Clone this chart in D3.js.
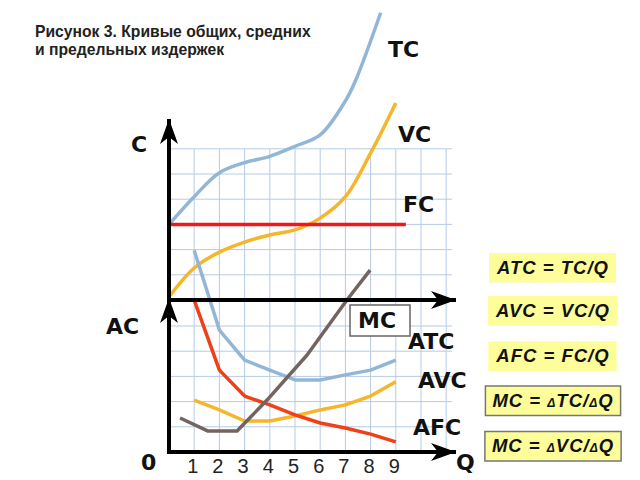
<!DOCTYPE html>
<html>
<head>
<meta charset="utf-8">
<script src="https://cdn.jsdelivr.net/npm/d3@7"></script>
<style>
  body { margin: 0; background: #fff; }
  svg { display: block; }
</style>
</head>
<body>
<div id="wrapper"></div>
<script>
const titleLines = ["Рисунок 3. Кривые общих, средних", "и предельных издержек"];
const qTicks = [1, 2, 3, 4, 5, 6, 7, 8, 9];

// upper panel: total costs
const tcQ = [0, 1, 2, 3, 4, 5, 6, 7, 7.4, 8.4];
const tcV = [3, 4.1, 5.05, 5.45, 5.7, 6.1, 6.55, 7.9, 8.7, 11.4];
const vcQ = [0, 1, 2, 3, 4, 5, 6, 7, 8, 9];
const vcV = [0.12, 1.27, 1.9, 2.3, 2.58, 2.78, 3.25, 4.1, 5.83, 7.82];
const fcQ = [0, 9.4];
const fcV = [3, 3];

// lower panel: average and marginal costs
const avgQ = [1, 2, 3, 4, 5, 6, 7, 8, 9];
const atcV = [8.0, 4.84, 3.65, 3.25, 2.86, 2.86, 3.06, 3.25, 3.65];
const avcV = [2.06, 1.67, 1.23, 1.23, 1.43, 1.67, 1.87, 2.22, 2.79];
const afcV = [6.03, 3.25, 2.22, 1.87, 1.47, 1.15, 0.95, 0.71, 0.4];
const mcQ = [0.44, 1.55, 2.7, 3.89, 5.48, 7.06, 7.98];
const mcV = [1.35, 0.83, 0.83, 2.06, 3.85, 6.03, 7.22];

const formulas = [
  ["ATC = TC/Q"],
  ["AVC = VC/Q"],
  ["AFC = FC/Q"],
  ["MC = ", "Δ", "TC/", "Δ", "Q"],
  ["MC = ", "Δ", "VC/", "Δ", "Q"],
];

const colors = {
  tc: "#93b6d6",
  vc: "#f6b52a",
  fc: "#f01818",
  afc: "#f0401a",
  mc: "#74645f",
  grid: "#b7cbe6",
};

const width = 640;
const height = 480;

const svg = d3
  .select("#wrapper")
  .append("svg")
  .attr("width", width)
  .attr("height", height);

const xScale = d3.scaleLinear().domain([0, 11]).range([169, 446.2]);
const yUpper = d3.scaleLinear().domain([0, 6]).range([300, 148.8]);
const yLower = d3.scaleLinear().domain([0, 6]).range([452, 300.8]);

// arrow head
svg
  .append("defs")
  .append("marker")
  .attr("id", "arrow")
  .attr("markerUnits", "userSpaceOnUse")
  .attr("viewBox", "-26 -10 28 20")
  .attr("refX", 0)
  .attr("refY", 0)
  .attr("markerWidth", 28)
  .attr("markerHeight", 20)
  .attr("orient", "auto")
  .append("path")
  .attr("d", "M0,0 L-25,-9 L-18,0 L-25,9 Z")
  .attr("fill", "#000");

// grid
const grid = svg.append("g").attr("stroke", colors.grid).attr("stroke-width", 1);
grid
  .selectAll("line.v")
  .data(d3.range(1, 12))
  .join("line")
  .attr("class", "v")
  .attr("x1", (d) => xScale(d))
  .attr("x2", (d) => xScale(d))
  .attr("y1", yUpper(6))
  .attr("y2", yLower(0));
grid
  .selectAll("line.hu")
  .data(d3.range(1, 7))
  .join("line")
  .attr("class", "hu")
  .attr("x1", xScale(0))
  .attr("x2", 452)
  .attr("y1", (d) => yUpper(d))
  .attr("y2", (d) => yUpper(d));
grid
  .selectAll("line.hl")
  .data(d3.range(1, 6))
  .join("line")
  .attr("class", "hl")
  .attr("x1", xScale(0))
  .attr("x2", 452)
  .attr("y1", (d) => yLower(d))
  .attr("y2", (d) => yLower(d));

// curves
const smoothLine = (ys) =>
  d3
    .line()
    .x((d) => xScale(d[0]))
    .y((d) => ys(d[1]))
    .curve(d3.curveCatmullRom.alpha(0.5));
const straightLine = (ys) =>
  d3
    .line()
    .x((d) => xScale(d[0]))
    .y((d) => ys(d[1]));

const curves = svg
  .append("g")
  .attr("fill", "none")
  .attr("stroke-width", 3.5)
  .attr("stroke-linejoin", "round");

curves.append("path").attr("d", smoothLine(yUpper)(d3.zip(tcQ, tcV))).attr("stroke", colors.tc);
curves.append("path").attr("d", smoothLine(yUpper)(d3.zip(vcQ, vcV))).attr("stroke", colors.vc);
curves.append("path").attr("d", straightLine(yUpper)(d3.zip(fcQ, fcV))).attr("stroke", colors.fc);
curves.append("path").attr("d", straightLine(yLower)(d3.zip(avgQ, atcV))).attr("stroke", colors.tc);
curves.append("path").attr("d", straightLine(yLower)(d3.zip(avgQ, avcV))).attr("stroke", colors.vc);
curves.append("path").attr("d", straightLine(yLower)(d3.zip(avgQ, afcV))).attr("stroke", colors.afc);
curves.append("path").attr("d", straightLine(yLower)(d3.zip(mcQ, mcV))).attr("stroke", colors.mc);

// axes
const axes = svg.append("g").attr("stroke", "#000").attr("stroke-width", 4);
axes.append("line").attr("x1", 169).attr("y1", yUpper(0)).attr("x2", 169).attr("y2", 119).attr("marker-end", "url(#arrow)");
axes.append("line").attr("x1", 169).attr("y1", yLower(0) + 2).attr("x2", 169).attr("y2", 298).attr("marker-end", "url(#arrow)");
axes.append("line").attr("x1", 167).attr("y1", yUpper(0)).attr("x2", 456).attr("y2", yUpper(0)).attr("marker-end", "url(#arrow)");
axes.append("line").attr("x1", 167).attr("y1", yLower(0)).attr("x2", 456).attr("y2", yLower(0)).attr("marker-end", "url(#arrow)");

const xAxis = svg
  .append("g")
  .attr("transform", `translate(0,${yLower(0)})`)
  .call(d3.axisBottom(xScale).tickValues(qTicks).tickSize(0));
xAxis.select(".domain").remove();
xAxis
  .selectAll("text")
  .attr("y", 21)
  .attr("dy", null)
  .attr("x", -2)
  .style("font-family", "'Liberation Sans', Arial, sans-serif")
  .style("font-size", "20px")
  .attr("fill", "#222");

// title
svg
  .append("g")
  .selectAll("text")
  .data(titleLines)
  .join("text")
  .attr("x", 35)
  .attr("y", (d, i) => 37 + i * 18)
  .style("font-family", "'Liberation Sans', Arial, sans-serif")
  .style("font-weight", "bold")
  .style("font-size", "15.7px")
  .attr("fill", "#222")
  .text((d) => d);

// curve and axis labels
const labels = [
  { t: "TC", x: 388, y: 57 },
  { t: "VC", x: 398, y: 142 },
  { t: "FC", x: 403, y: 212 },
  { t: "MC", x: 358, y: 328 },
  { t: "ATC", x: 408, y: 349 },
  { t: "AVC", x: 418, y: 388 },
  { t: "AFC", x: 413, y: 435 },
  { t: "C", x: 131, y: 152 },
  { t: "AC", x: 106, y: 334 },
  { t: "0", x: 141, y: 470 },
  { t: "Q", x: 456, y: 470 },
];

svg
  .append("rect")
  .attr("x", 350)
  .attr("y", 305)
  .attr("width", 60)
  .attr("height", 31)
  .attr("fill", "#fff")
  .attr("stroke", "#666")
  .attr("stroke-width", 1.5);

svg
  .append("g")
  .selectAll("text")
  .data(labels)
  .join("text")
  .attr("x", (d) => d.x)
  .attr("y", (d) => d.y)
  .style("font-family", "'DejaVu Sans', Verdana, sans-serif")
  .style("font-weight", "bold")
  .style("font-size", "22px")
  .attr("fill", "#111")
  .text((d) => d.t);

// formula boxes
const boxTops = [253, 296, 341.5, 386, 431.5];
formulas.forEach((parts, i) => {
  const g = svg.append("g");
  const rect = g.append("rect");
  const text = g
    .append("text")
    .attr("x", 553)
    .attr("y", boxTops[i] + 20.5)
    .attr("text-anchor", "middle")
    .style("font-family", "'Liberation Sans', Arial, sans-serif")
    .style("font-weight", "bold")
    .style("font-style", "italic")
    .style("font-size", "18.5px")
    .style("letter-spacing", "1px")
    .attr("fill", "#111");
  parts.forEach((p) => {
    text
      .append("tspan")
      .style("font-size", p === "Δ" ? "12px" : null)
      .text(p);
  });
  const bb = text.node().getBBox();
  rect
    .attr("x", bb.x - 7)
    .attr("y", boxTops[i])
    .attr("width", bb.width + 14)
    .attr("height", 29.5)
    .attr("fill", "#fdfd9a")
    .attr("stroke", i >= 3 ? "#777" : "none")
    .attr("stroke-width", 1.5);
});
</script>
</body>
</html>
